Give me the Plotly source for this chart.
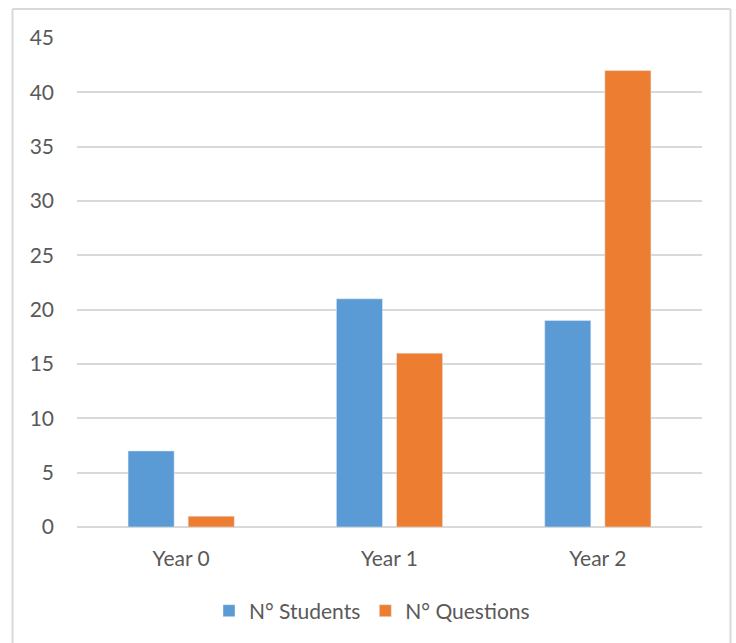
import plotly.graph_objects as go

categories = ["Year 0", "Year 1", "Year 2"]
students = [7, 21, 19]
questions = [1, 16, 42]
y_ticks = [0, 5, 10, 15, 20, 25, 30, 35, 40, 45]

W, H = 736, 643
L, R, T, B = 77, 34, 38, 116
pw, ph = W - L - R, H - T - B

def px_x(p):
    return (p - L) / pw

def px_y(p):
    return (H - B - p) / ph

font_family = "Lato, 'Open Sans', sans-serif"
grey = "#595959"

fig = go.Figure()
fig.add_trace(go.Bar(name="N° Students", x=categories, y=students, marker_color="#5B9BD5"))
fig.add_trace(go.Bar(name="N° Questions", x=categories, y=questions, marker_color="#ED7D31"))

border = "#d9d9d9"
fig.add_shape(type="line", xref="paper", yref="paper", x0=px_x(12.5), x1=px_x(12.5),
              y0=px_y(9), y1=px_y(660), line=dict(color=border, width=2))
fig.add_shape(type="line", xref="paper", yref="paper", x0=px_x(730.5), x1=px_x(730.5),
              y0=px_y(9), y1=px_y(660), line=dict(color=border, width=2))
fig.add_shape(type="line", xref="paper", yref="paper", x0=px_x(12.5), x1=px_x(730.5),
              y0=px_y(9), y1=px_y(9), line=dict(color=border, width=2))

fig.update_layout(
    width=W, height=H,
    margin=dict(l=L, r=R, t=T, b=B, autoexpand=False),
    paper_bgcolor="white", plot_bgcolor="white",
    barmode="group", bargap=0.423, bargroupgap=0.233,
    font=dict(family=font_family, color=grey, size=21),
    showlegend=True,
    legend=dict(orientation="h", x=px_x(372), xanchor="center", y=px_y(611), yanchor="middle",
                font=dict(size=21, color=grey), itemwidth=30, traceorder="normal"),
    xaxis=dict(showgrid=False, showline=False, ticks="", tickfont=dict(size=21, color=grey),
               ticklabelstandoff=17),
    yaxis=dict(range=[0, 45], tickvals=y_ticks, showgrid=True, gridcolor="#d9d9d9", gridwidth=1.5,
               zeroline=True, zerolinecolor="#d9d9d9", zerolinewidth=1.5, showline=False,
               ticks="", tickfont=dict(size=21, color=grey), ticklabelstandoff=22),
)

fig.write_html("out.html")
